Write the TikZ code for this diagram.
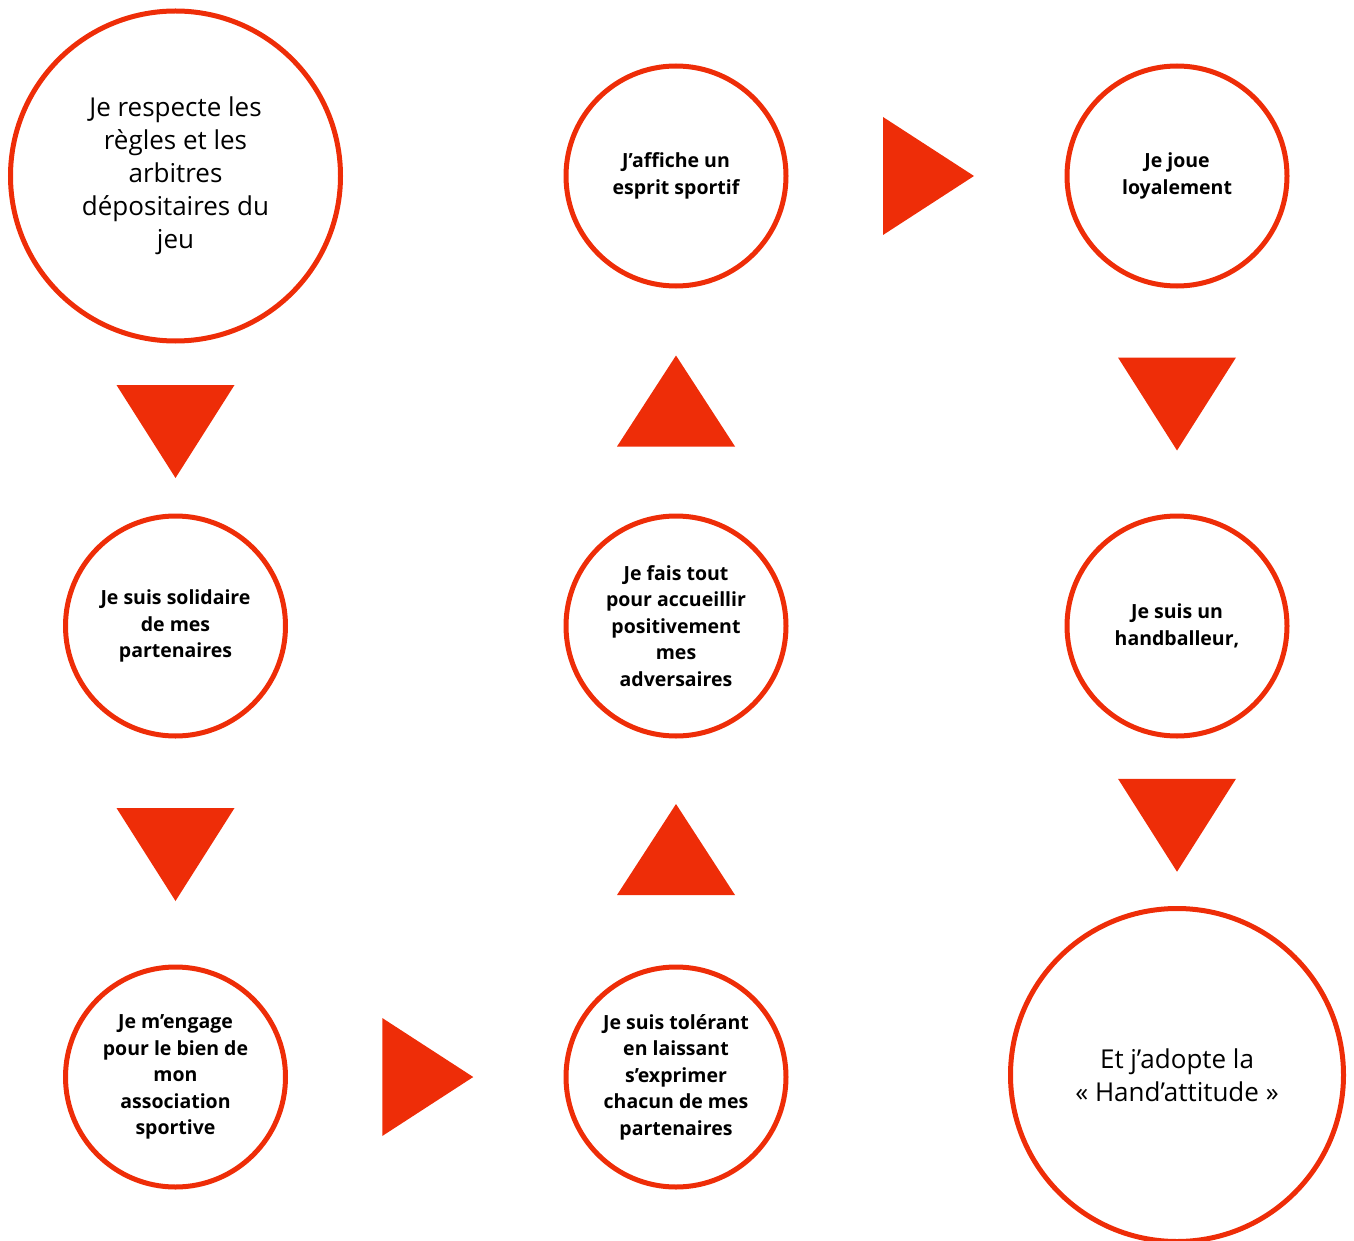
\documentclass[tikz,border=0pt]{standalone}
\usepackage{fontspec}
\setmainfont{Open Sans}
\usetikzlibrary{calc}
\definecolor{hred}{RGB}{238,45,8}
\begin{document}
\begin{tikzpicture}[x=1pt,y=-1pt,
  bigc/.style={circle,draw=hred,line width=5pt,minimum size=330pt,inner sep=0pt,align=center,
    font=\fontsize{26}{33}\selectfont},
  smallc/.style={circle,draw=hred,line width=5pt,minimum size=220pt,inner sep=0pt,align=center,
    font=\fontsize{19.5}{26.5}\selectfont\bfseries},
  tri/.style={fill=hred,draw=none}]
\useasboundingbox (0,0) rectangle (1354,1241);
\node[bigc] (a) at (175.5,176) {Je respecte les\\règles et les\\arbitres\\dépositaires du\\jeu};
\node[smallc] (b) at (175.5,626) {Je suis solidaire\\de mes\\partenaires};
\node[smallc] (c) at (175.5,1077) {Je m’engage\\pour le bien de\\mon\\association\\sportive};
\node[smallc] (d) at (676,1077) {Je suis tolérant\\en laissant\\s’exprimer\\chacun de mes\\partenaires};
\node[smallc] (e) at (676,626) {Je fais tout\\pour accueillir\\positivement\\mes\\adversaires};
\node[smallc] (f) at (676,176) {J’affiche un\\esprit sportif};
\node[smallc] (g) at (1177,176) {Je joue\\loyalement};
\node[smallc] (h) at (1177,626) {Je suis un\\handballeur,};
\node[bigc,minimum size=333pt] (i) at (1177,1075) {Et j’adopte la\\« Hand’attitude »};
% down arrows
\coordinate (ab) at ($(a.south)!0.5!(b.north)+(0,3)$);
\coordinate (bc) at ($(b.south)!0.5!(c.north)+(0,3)$);
\coordinate (gh) at ($(g.south)!0.5!(h.north)+(0,3)$);
\coordinate (hi) at ($(h.south)!0.5!(i.north)+(0,3)$);
\foreach \m in {ab,bc,gh,hi}
  \path[tri] (\m) ++(-59,-46.5) -- ++(118,0) -- ++(-59,93) -- cycle;
% up arrows
\coordinate (de) at ($(d.north)!0.5!(e.south)+(0,-2)$);
\coordinate (ef) at ($(e.north)!0.5!(f.south)$);
\foreach \m in {de,ef}
  \path[tri] (\m) ++(-59,45.5) -- ++(118,0) -- ++(-59,-91) -- cycle;
% right arrows
\coordinate (cd) at ($(c.east)!0.5!(d.west)+(2,0)$);
\coordinate (fg) at ($(f.east)!0.5!(g.west)+(2,0)$);
\foreach \m in {cd,fg}
  \path[tri] (\m) ++(-45.5,-59) -- ++(0,118) -- ++(91,-59) -- cycle;
\end{tikzpicture}
\end{document}
